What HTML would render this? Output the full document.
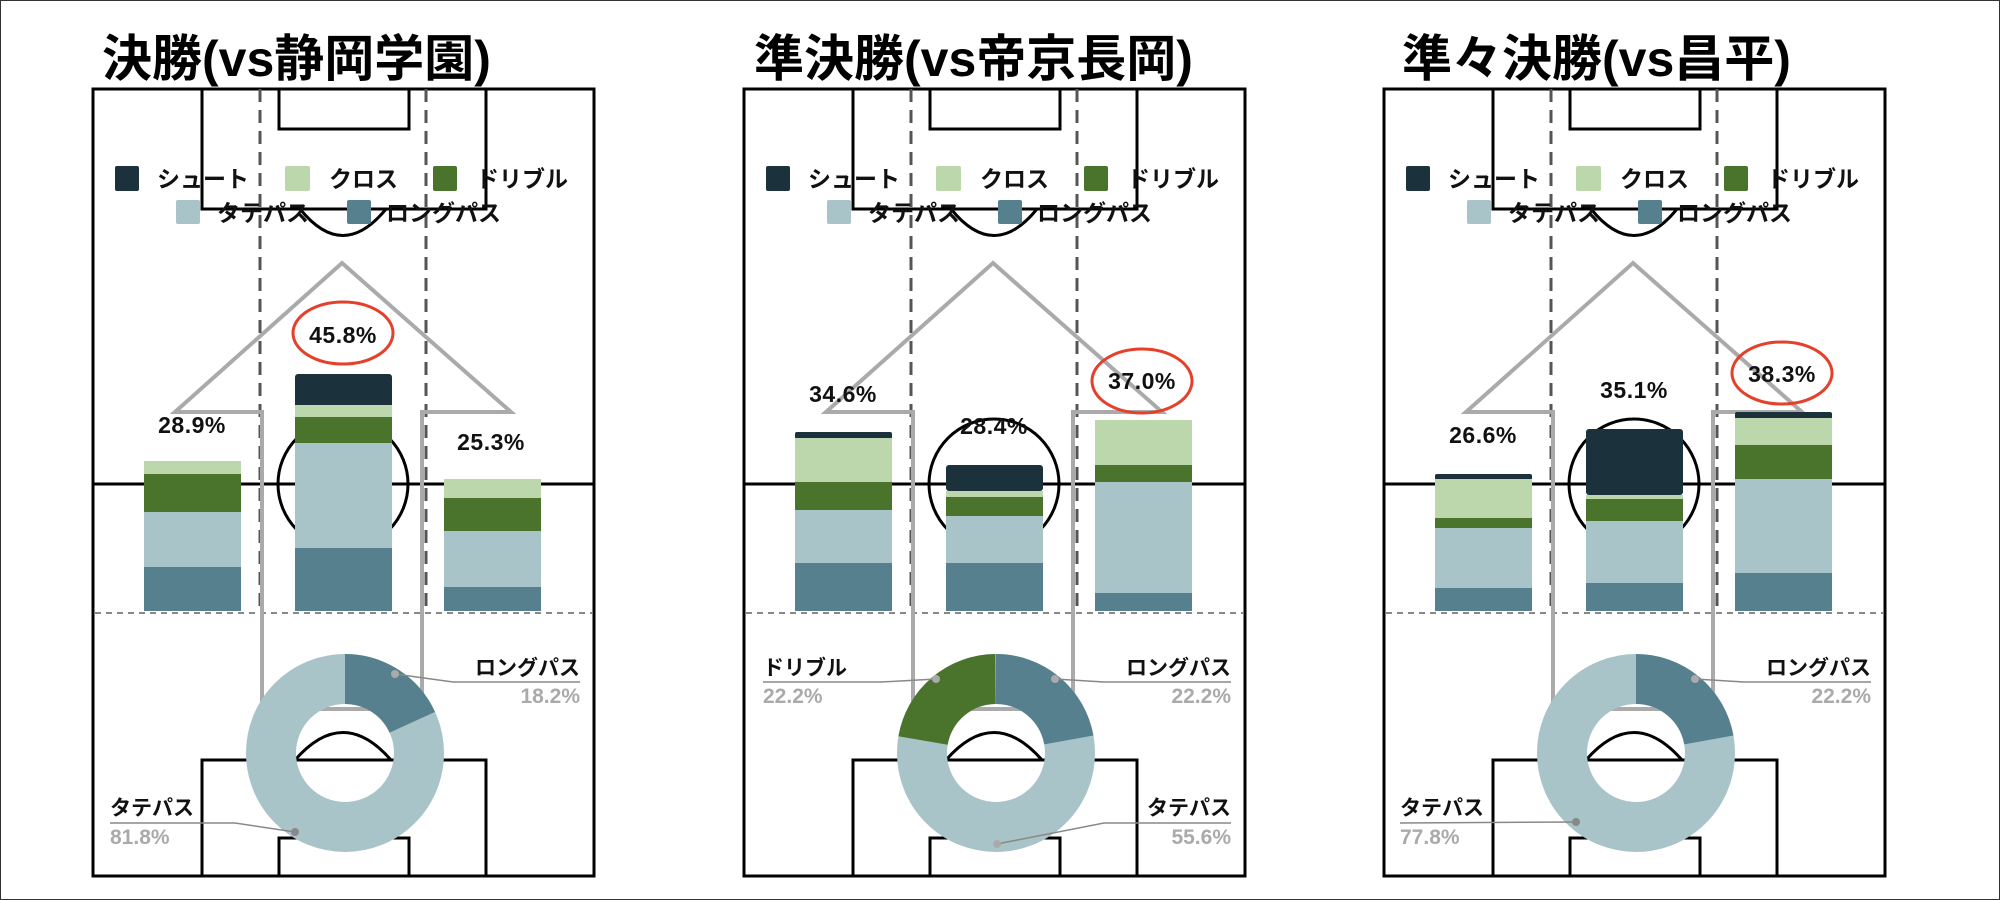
<!DOCTYPE html>
<html><head><meta charset="utf-8"><style>
html,body{margin:0;padding:0;background:#fff}
svg{display:block}
text{font-family:"Liberation Sans","Noto Sans CJK JP",sans-serif;font-weight:bold}
</style></head><body>
<svg width="2000" height="900" viewBox="0 0 2000 900" xmlns="http://www.w3.org/2000/svg">
<defs>
<g id="field" fill="none">
  <rect x="93" y="89" width="501" height="787" stroke="#000" stroke-width="3"/>
  <polyline points="202,89 202,209 486,209 486,89" stroke="#000" stroke-width="3"/>
  <polyline points="279,89 279,129 409,129 409,89" stroke="#000" stroke-width="3"/>
  <path d="M300,209 Q343,262 386,209" stroke="#000" stroke-width="3"/>
  <line x1="93" y1="484" x2="594" y2="484" stroke="#000" stroke-width="3"/>
  <circle cx="343" cy="484" r="65" stroke="#000" stroke-width="3"/>
  <polyline points="202,876 202,760 486,760 486,876" stroke="#000" stroke-width="3"/>
  <polyline points="279,876 279,838 409,838 409,876" stroke="#000" stroke-width="3"/>
  <path d="M295,760 Q343,705 391,760" stroke="#000" stroke-width="3"/>
  <line x1="260" y1="89" x2="260" y2="611" stroke="#555" stroke-width="3" stroke-dasharray="13 8"/>
  <line x1="426" y1="89" x2="426" y2="611" stroke="#555" stroke-width="3" stroke-dasharray="13 8"/>
  <line x1="95" y1="613" x2="592" y2="613" stroke="#888" stroke-width="2" stroke-dasharray="6 5"/>
  <polygon points="342,263 511,412 422,412 422,709 262,709 262,412 175,412" stroke="#aaa" stroke-width="4" stroke-linejoin="miter"/>
  <rect x="115" y="166" width="24" height="25" rx="2" fill="#1b323c"/>
  <rect x="285" y="166" width="25" height="25" rx="2" fill="#bdd7ad"/>
  <rect x="433" y="166" width="24" height="25" rx="2" fill="#4a742c"/>
  <rect x="176" y="200" width="24" height="24" rx="2" fill="#a9c4c9"/>
  <rect x="347" y="200" width="24" height="24" rx="2" fill="#56808e"/>
</g>
</defs>
<rect x="0.5" y="0.5" width="1999" height="899" fill="none" stroke="#333" stroke-width="1"/>

<!-- Panel 1 -->
<g>
  <use href="#field"/>
  <g font-size="23" fill="#111">
    <text x="157" y="187">シュート</text><text x="329" y="187">クロス</text><text x="476" y="187">ドリブル</text>
    <text x="217" y="221">タテパス</text><text x="386" y="221">ロングパス</text>
  </g>
  <text x="102" y="76" font-size="50">決勝(vs静岡学園)</text>
  <rect x="144" y="461" width="97" height="13" fill="#bdd7ad"/><rect x="144" y="474" width="97" height="38" fill="#4a742c"/><rect x="144" y="512" width="97" height="55" fill="#a9c4c9"/><rect x="144" y="567" width="97" height="44" fill="#56808e"/>
  <rect x="295" y="374" width="97" height="34" rx="3" fill="#1b323c"/><rect x="295" y="405" width="97" height="12" fill="#bdd7ad"/><rect x="295" y="417" width="97" height="26" fill="#4a742c"/><rect x="295" y="443" width="97" height="105" fill="#a9c4c9"/><rect x="295" y="548" width="97" height="63" fill="#56808e"/>
  <rect x="444" y="479" width="97" height="19" fill="#bdd7ad"/><rect x="444" y="498" width="97" height="33" fill="#4a742c"/><rect x="444" y="531" width="97" height="56" fill="#a9c4c9"/><rect x="444" y="587" width="97" height="24" fill="#56808e"/>
  <g font-size="23" text-anchor="middle" fill="#111" letter-spacing="0.5">
    <text x="192" y="433">28.9%</text><text x="343" y="343">45.8%</text><text x="491" y="450">25.3%</text>
  </g>
  <ellipse cx="343" cy="333" rx="50" ry="31" fill="none" stroke="#e4402a" stroke-width="3"/>
  <g transform="rotate(-90 345 753)" fill="none" stroke-width="50">
    <circle cx="345" cy="753" r="74" stroke="#a9c4c9" pathLength="100"/>
    <circle cx="345" cy="753" r="74" stroke="#56808e" pathLength="100" stroke-dasharray="18.2 100"/>
  </g>
  <polyline points="395,674 453,682 580,682" fill="none" stroke="#888" stroke-width="1.5"/>
  <circle cx="395" cy="674" r="4" fill="#aaa"/>
  <polyline points="110,823 235,823 295,832" fill="none" stroke="#888" stroke-width="1.5"/>
  <circle cx="295" cy="832" r="4" fill="#888"/>
  <g font-size="21">
    <text x="580" y="675" text-anchor="end" fill="#111">ロングパス</text>
    <text x="580" y="703" text-anchor="end" fill="#aaa">18.2%</text>
    <text x="110" y="815" fill="#111">タテパス</text>
    <text x="110" y="844" fill="#aaa">81.8%</text>
  </g>
</g>

<!-- Panel 2 -->
<g transform="translate(651 0)">
  <use href="#field"/>
  <g font-size="23" fill="#111">
    <text x="157" y="187">シュート</text><text x="329" y="187">クロス</text><text x="476" y="187">ドリブル</text>
    <text x="217" y="221">タテパス</text><text x="386" y="221">ロングパス</text>
  </g>
  <text x="103" y="76" font-size="50">準決勝(vs帝京長岡)</text>
  <rect x="144" y="432" width="97" height="7" rx="2" fill="#1b323c"/><rect x="144" y="438" width="97" height="44" fill="#bdd7ad"/><rect x="144" y="482" width="97" height="28" fill="#4a742c"/><rect x="144" y="510" width="97" height="53" fill="#a9c4c9"/><rect x="144" y="563" width="97" height="48" fill="#56808e"/>
  <rect x="295" y="465" width="97" height="26" rx="3" fill="#1b323c"/><rect x="295" y="491" width="97" height="6" fill="#bdd7ad"/><rect x="295" y="497" width="97" height="19" fill="#4a742c"/><rect x="295" y="516" width="97" height="47" fill="#a9c4c9"/><rect x="295" y="563" width="97" height="48" fill="#56808e"/>
  <rect x="444" y="420" width="97" height="45" fill="#bdd7ad"/><rect x="444" y="465" width="97" height="17" fill="#4a742c"/><rect x="444" y="482" width="97" height="111" fill="#a9c4c9"/><rect x="444" y="593" width="97" height="18" fill="#56808e"/>
  <g font-size="23" text-anchor="middle" fill="#111" letter-spacing="0.5">
    <text x="192" y="402">34.6%</text><text x="343" y="434">28.4%</text><text x="491" y="389">37.0%</text>
  </g>
  <ellipse cx="491" cy="381" rx="50" ry="32" fill="none" stroke="#e4402a" stroke-width="3"/>
  <g transform="rotate(-90 345 753)" fill="none" stroke-width="50">
    <circle cx="345" cy="753" r="74" stroke="#a9c4c9" pathLength="100"/>
    <circle cx="345" cy="753" r="74" stroke="#56808e" pathLength="100" stroke-dasharray="22.2 100"/>
    <circle cx="345" cy="753" r="74" stroke="#4a742c" pathLength="100" stroke-dasharray="22.2 100" stroke-dashoffset="-77.8"/>
  </g>
  <polyline points="404,679 453,682 580,682" fill="none" stroke="#888" stroke-width="1.5"/>
  <circle cx="404" cy="679" r="4" fill="#aaa"/>
  <polyline points="112,682 230,682 285,679" fill="none" stroke="#888" stroke-width="1.5"/>
  <circle cx="285" cy="679" r="4" fill="#aaa"/>
  <polyline points="580,823 453,823 346,844" fill="none" stroke="#888" stroke-width="1.5"/>
  <circle cx="346" cy="844" r="4" fill="#aaa"/>
  <g font-size="21">
    <text x="580" y="675" text-anchor="end" fill="#111">ロングパス</text>
    <text x="580" y="703" text-anchor="end" fill="#aaa">22.2%</text>
    <text x="112" y="675" fill="#111">ドリブル</text>
    <text x="112" y="703" fill="#aaa">22.2%</text>
    <text x="580" y="815" text-anchor="end" fill="#111">タテパス</text>
    <text x="580" y="844" text-anchor="end" fill="#aaa">55.6%</text>
  </g>
</g>

<!-- Panel 3 -->
<g transform="translate(1291 0)">
  <use href="#field"/>
  <g font-size="23" fill="#111">
    <text x="157" y="187">シュート</text><text x="329" y="187">クロス</text><text x="476" y="187">ドリブル</text>
    <text x="217" y="221">タテパス</text><text x="386" y="221">ロングパス</text>
  </g>
  <text x="111" y="76" font-size="50">準々決勝(vs昌平)</text>
  <rect x="144" y="474" width="97" height="6" rx="2" fill="#1b323c"/><rect x="144" y="479" width="97" height="39" fill="#bdd7ad"/><rect x="144" y="518" width="97" height="10" fill="#4a742c"/><rect x="144" y="528" width="97" height="60" fill="#a9c4c9"/><rect x="144" y="588" width="97" height="23" fill="#56808e"/>
  <rect x="295" y="429" width="97" height="66" rx="3" fill="#1b323c"/><rect x="295" y="495" width="97" height="4" fill="#bdd7ad"/><rect x="295" y="499" width="97" height="22" fill="#4a742c"/><rect x="295" y="521" width="97" height="62" fill="#a9c4c9"/><rect x="295" y="583" width="97" height="28" fill="#56808e"/>
  <rect x="444" y="412" width="97" height="7" rx="2" fill="#1b323c"/><rect x="444" y="418" width="97" height="27" fill="#bdd7ad"/><rect x="444" y="445" width="97" height="34" fill="#4a742c"/><rect x="444" y="479" width="97" height="94" fill="#a9c4c9"/><rect x="444" y="573" width="97" height="38" fill="#56808e"/>
  <g font-size="23" text-anchor="middle" fill="#111" letter-spacing="0.5">
    <text x="192" y="443">26.6%</text><text x="343" y="398">35.1%</text><text x="491" y="382">38.3%</text>
  </g>
  <ellipse cx="491" cy="373" rx="50" ry="31" fill="none" stroke="#e4402a" stroke-width="3"/>
  <g transform="rotate(-90 345 753)" fill="none" stroke-width="50">
    <circle cx="345" cy="753" r="74" stroke="#a9c4c9" pathLength="100"/>
    <circle cx="345" cy="753" r="74" stroke="#56808e" pathLength="100" stroke-dasharray="22.2 100"/>
  </g>
  <polyline points="404,679 453,682 580,682" fill="none" stroke="#888" stroke-width="1.5"/>
  <circle cx="404" cy="679" r="4" fill="#aaa"/>
  <polyline points="109,823 285,822" fill="none" stroke="#888" stroke-width="1.5"/>
  <circle cx="285" cy="822" r="4" fill="#888"/>
  <g font-size="21">
    <text x="580" y="675" text-anchor="end" fill="#111">ロングパス</text>
    <text x="580" y="703" text-anchor="end" fill="#aaa">22.2%</text>
    <text x="109" y="815" fill="#111">タテパス</text>
    <text x="109" y="844" fill="#aaa">77.8%</text>
  </g>
</g>
</svg>
</body></html>
